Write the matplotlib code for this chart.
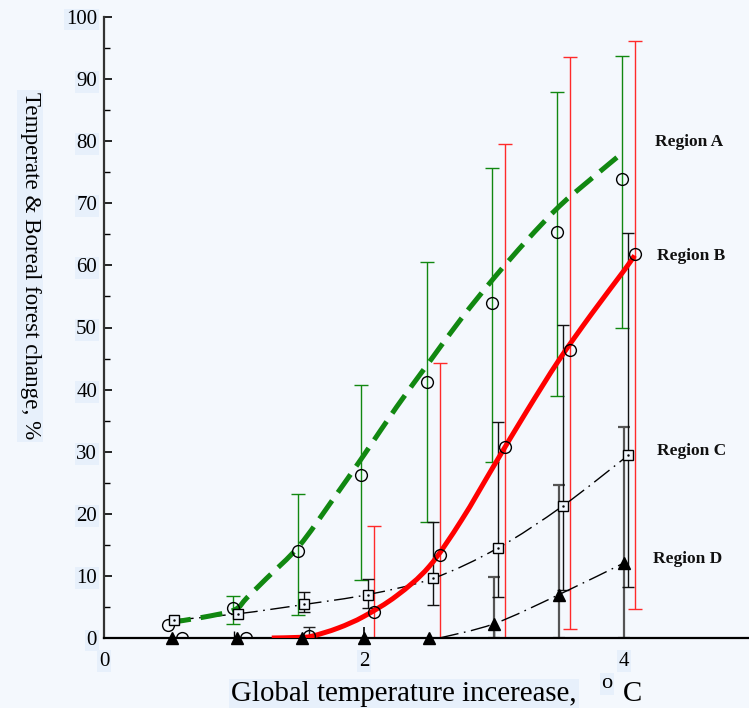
import numpy as np
import matplotlib
matplotlib.use("Agg")
import matplotlib.pyplot as plt
from matplotlib.path import Path
from matplotlib.patches import PathPatch

# ---------------- data ----------------
nan = np.nan
# Region A (open circles, green error bars)
a_x = [0.49, 0.99, 1.49, 1.98, 2.48, 2.98, 3.48, 3.98]
a_y = [2.1, 4.8, 14.0, 26.2, 41.2, 54.0, 65.4, 73.9]
a_lo = [nan, 2.2, 3.7, 9.3, 18.7, 28.3, 39.0, 49.9]
a_hi = [nan, 6.8, 23.2, 40.8, 60.5, 75.7, 87.9, 93.7]
a_fit_x = [0.5, 0.75, 1.0, 1.1, 1.25, 1.5, 1.75, 2.0, 2.25, 2.5, 2.75, 3.0, 3.25, 3.5, 3.75, 3.98]
a_fit_y = [2.5, 3.3, 4.5, 6.5, 9.6, 14.8, 22.0, 29.5, 37.2, 44.4, 51.5, 58.0, 64.0, 69.5, 74.0, 78.0]

# Region B (open circles, red error bars)
b_x = [0.60, 1.09, 1.58, 2.08, 2.58, 3.08, 3.58, 4.08]
b_y = [0.0, 0.0, 0.3, 4.2, 13.4, 30.8, 46.4, 61.8]
b_lo = [nan, nan, 0.3, 0.0, 0.0, 0.0, 1.4, 4.7]
b_hi = [nan, nan, 1.8, 18.0, 44.3, 79.5, 93.5, 96.1]
b_fit_x = [1.29, 1.5, 1.6, 1.8, 2.0, 2.25, 2.5, 2.75, 3.0, 3.25, 3.5, 3.75, 4.0, 4.08]
b_fit_y = [0.0, 0.1, 0.3, 1.6, 3.5, 6.8, 11.5, 19.0, 27.8, 36.5, 44.8, 52.2, 59.2, 61.6]

# Region C (open squares, black error bars)
c_x = [0.54, 1.03, 1.54, 2.03, 2.53, 3.03, 3.53, 4.03]
c_y = [2.9, 3.9, 5.4, 7.0, 9.6, 14.5, 21.3, 29.4]
c_lo = [nan, nan, 4.2, 4.8, 5.3, 6.6, 7.7, 8.2]
c_hi = [nan, nan, 7.4, 9.5, 18.7, 34.8, 50.4, 65.2]

# Region D (filled triangles, dark error bars)
d_x = [0.52, 1.02, 1.52, 2.00, 2.50, 3.00, 3.50, 4.00]
d_y = [0.0, 0.0, 0.0, 0.0, 0.0, 2.3, 7.0, 12.1]
d_lo = [nan, nan, nan, nan, nan, 0.0, 0.0, 0.0]
d_hi = [nan, nan, nan, nan, nan, 9.8, 24.6, 34.0]
d_line_x = [2.58, 3.00, 3.50, 4.00]
d_line_y = [0.0, 2.3, 7.0, 12.1]

region_labels = ["Region A", "Region B", "Region C", "Region D"]
region_label_x = [4.24, 4.25, 4.25, 4.22]
region_label_y = [79.9, 61.5, 30.1, 12.7]

y_ticks = list(range(0, 101, 10))
x_ticks = [0, 2, 4]

# ---------------- style ----------------
BG = "#f4f8fd"
BOX = "#e7f0fb"
GREEN = "#118811"
RED = "#ff0000"

plt.rcParams["font.family"] = ["Liberation Serif", "DejaVu Serif"]

fig = plt.figure(figsize=(7.49, 7.08), dpi=100, facecolor=BG)
ax = fig.add_axes([104 / 749, 70 / 708, 645 / 749, 621 / 708])
ax.set_facecolor(BG)
ax.set_xlim(0, 4.96)
ax.set_ylim(0, 100)


def errbars(x, y, lo, hi, color, lw=1.0, cap=4, z=2):
    x = np.asarray(x, float)
    y = np.asarray(y, float)
    lo = np.asarray(lo, float)
    hi = np.asarray(hi, float)
    m = ~np.isnan(lo)
    ax.errorbar(x[m], y[m], yerr=[y[m] - lo[m], hi[m] - y[m]], fmt="none",
                ecolor=color, elinewidth=lw, capsize=cap, capthick=lw, zorder=z)


def smooth_curve(xs, ys, **kw):
    """Catmull-Rom curve through the read points, drawn as a bezier Path."""
    p = np.column_stack([xs, ys]).astype(float)
    verts = [p[0]]
    codes = [Path.MOVETO]
    n = len(p)
    for i in range(n - 1):
        p0 = p[i - 1] if i > 0 else p[i]
        p1, p2 = p[i], p[i + 1]
        p3 = p[i + 2] if i + 2 < n else p[i + 1]
        c1 = p1 + (p2 - p0) / 6.0
        c2 = p2 - (p3 - p1) / 6.0
        verts += [c1, c2, p2]
        codes += [Path.CURVE4] * 3
    patch = PathPatch(Path(verts, codes), facecolor="none", **kw)
    ax.add_patch(patch)
    return patch


# error bars
errbars(a_x, a_y, a_lo, a_hi, GREEN, lw=1.0, cap=5)
bmask = [False, False, False, True, True, True, True, True]
b_red_lo = [v if k else nan for v, k in zip(b_lo, bmask)]
b_blk_lo = [nan if k else v for v, k in zip(b_lo, bmask)]
errbars(b_x, b_y, b_red_lo, b_hi, "#ff2a2a", lw=1.0, cap=5)
errbars(b_x, b_y, b_blk_lo, b_hi, "#222222", lw=1.0, cap=4)
errbars(d_x, d_y, d_lo, d_hi, "#555555", lw=1.6, cap=4)
errbars(c_x, c_y, c_lo, c_hi, "#111111", lw=1.0, cap=4)

# fitted curves
smooth_curve(a_fit_x, a_fit_y, edgecolor=GREEN, lw=3.6, linestyle=(0, (4.4, 2.0)),
             capstyle="butt", zorder=4)
smooth_curve(b_fit_x, b_fit_y, edgecolor=RED, lw=3.6, capstyle="butt", zorder=4)
smooth_curve(c_x, c_y, edgecolor="black", lw=1.0, linestyle=(0, (14, 4, 1.2, 4)), zorder=3)
smooth_curve(d_line_x, d_line_y, edgecolor="black", lw=1.0,
             linestyle=(0, (14, 4, 1.2, 4)), zorder=3)

# markers
ax.plot(a_x, a_y, "o", ms=8.5, mfc="none", mec="black", mew=1.0, zorder=5)
ax.plot(b_x, b_y, "o", ms=8.5, mfc="none", mec="black", mew=1.0, zorder=5)
ax.plot(c_x, c_y, "s", ms=7, mfc="#eef4fb", mec="black", mew=1.0, zorder=5)
ax.plot(c_x, c_y, ".", ms=1.5, color="black", zorder=6)
ax.plot(d_x, d_y, "^", ms=9, mfc="black", mec="black", zorder=5, clip_on=False)

# region labels
for lx, ly, t in zip(region_label_x, region_label_y, region_labels):
    ax.text(lx, ly, t, fontsize=12.5, fontweight="bold", ha="left", va="center",
            color="#111111")

# axes / ticks
for s in ("top", "right"):
    ax.spines[s].set_visible(False)
ax.spines["left"].set_linewidth(1.6)
ax.spines["left"].set_color("#333333")
ax.spines["bottom"].set_linewidth(1.6)
ax.set_yticks(y_ticks)
ax.set_yticks(np.arange(5, 100, 10), minor=True)
ax.set_xticks(x_ticks)
ax.set_xticks([1, 3], minor=True)
ax.tick_params(axis="y", which="major", direction="in", length=6, width=1.2,
               labelsize=15, pad=5)
ax.tick_params(axis="y", which="minor", direction="in", length=4, width=1.0)
ax.tick_params(axis="x", which="major", direction="in", length=8, width=1.2,
               labelsize=15, pad=10)
ax.tick_params(axis="x", which="minor", direction="in", length=5, width=1.0)
for lbl in ax.get_yticklabels() + ax.get_xticklabels():
    lbl.set_bbox(dict(facecolor=BOX, edgecolor="none", pad=1.0))

# axis titles
fig.text(30 / 749, 1 - 266 / 708, "Temperate & Boreal forest change, %",
         rotation=-90, fontsize=16.6, ha="center", va="center",
         bbox=dict(facecolor=BOX, edgecolor="none", pad=1.5))
fig.text(404 / 749, 1 - 694 / 708, "Global temperature incerease,",
         fontsize=20.8, ha="center", va="center",
         bbox=dict(facecolor=BOX, edgecolor="none", pad=1.5))
fig.text(607 / 749, 1 - 684 / 708, "o", fontsize=16, ha="center", va="center",
         bbox=dict(facecolor=BOX, edgecolor="none", pad=1.0))
fig.text(632 / 749, 1 - 694 / 708, "C", fontsize=20.8, ha="center", va="center")

fig.savefig("out.png", dpi=100, facecolor=BG)
